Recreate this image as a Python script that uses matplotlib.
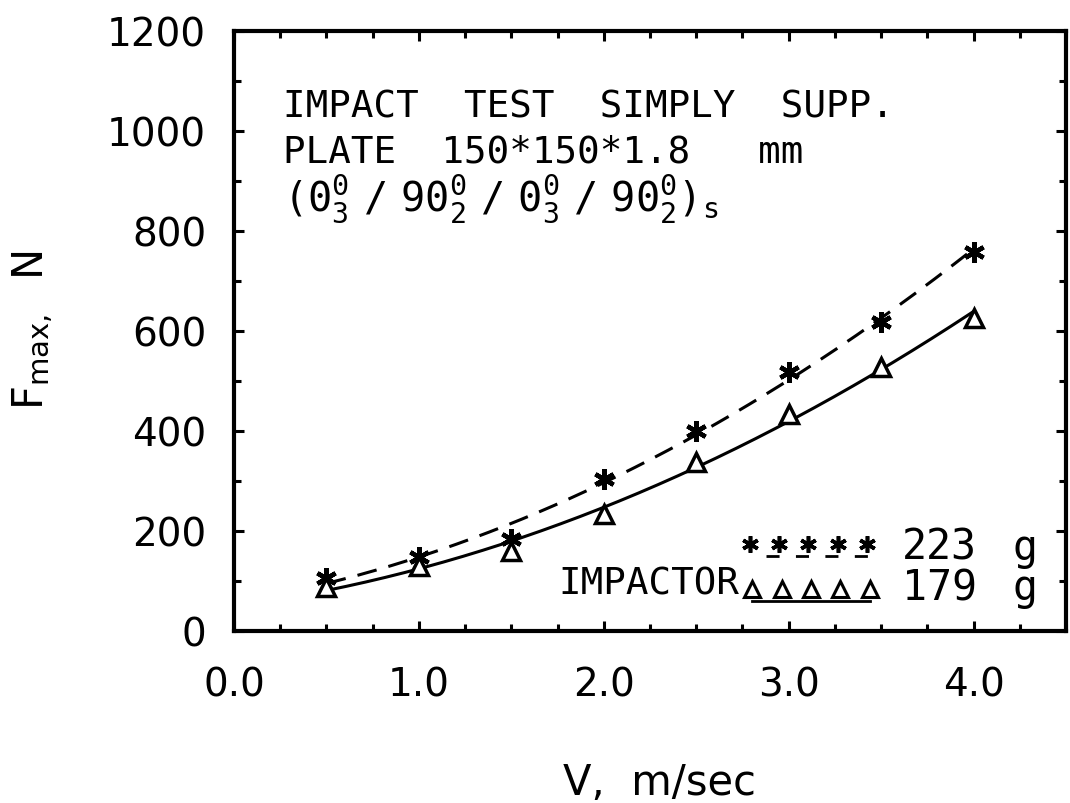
import numpy as np
import matplotlib
matplotlib.use("Agg")
import matplotlib.pyplot as plt
from matplotlib.ticker import MultipleLocator

plt.rcParams['font.family'] = ['DejaVu Sans']
plt.rcParams['mathtext.fontset'] = 'dejavusans'
plt.rcParams['mathtext.default'] = 'regular'

# impact velocity, m/sec
velocity = [0.5, 1.0, 1.5, 2.0, 2.5, 3.0, 3.5, 4.0]
# peak force, N
f_223g = [106, 148, 184, 304, 400, 519, 619, 759]
f_179g = [88, 130, 160, 234, 338, 435, 529, 627]

x_ticks = [0.0, 1.0, 2.0, 3.0, 4.0]
y_ticks = [0, 200, 400, 600, 800, 1000, 1200]

mono = 'DejaVu Sans Mono'

fig = plt.figure(figsize=(10.7, 8.04), dpi=100)
ax = fig.add_axes([234 / 1070, 1 - 632 / 804, 832 / 1070, 600 / 804])

# quadratic fits drawn through the measured points
xs = np.linspace(velocity[0], velocity[-1], 200)
fit_223 = np.polyval(np.polyfit(velocity, f_223g, 2), xs)
fit_179 = np.polyval(np.polyfit(velocity, f_179g, 2), xs)

ax.plot(xs, fit_223, color='black', lw=2.2, ls=(0, (6.5, 4)))
ax.plot(xs, fit_179, color='black', lw=2.2)
ax.plot(velocity, f_223g, ls='none', marker=(6, 2, 0), ms=15, mew=3.2, color='black')
ax.plot(velocity, f_179g, ls='none', marker='^', ms=13, mew=2.5,
        mfc='white', mec='black')

ax.set_xlim(0, 4.5)
ax.set_ylim(0, 1200)
ax.set_xticks(x_ticks)
ax.set_xticklabels([f"{v:.1f}" for v in x_ticks])
ax.set_yticks(y_ticks)
ax.xaxis.set_minor_locator(MultipleLocator(0.25))
ax.yaxis.set_minor_locator(MultipleLocator(100))
ax.tick_params(which='both', direction='in', top=True, right=True, width=2.2,
               labelsize=28)
ax.tick_params(which='major', length=7)
ax.tick_params(which='minor', length=5)
ax.tick_params(axis='x', pad=25)
ax.tick_params(axis='y', pad=20)
for s in ax.spines.values():
    s.set_linewidth(3)

ax.set_xlabel("V,  m/sec", fontsize=30)
ax.xaxis.set_label_coords(0.512, -0.217)
ax.set_ylabel(r"F$_{max,}$  N", fontsize=30)
ax.yaxis.set_label_coords(-0.215, 0.503)

# title block
ax.text(0.059, 0.857, "IMPACT  TEST  SIMPLY  SUPP.", transform=ax.transAxes,
        fontsize=27, family=mono, va='baseline', ha='left')
ax.text(0.059, 0.782, "PLATE  150*150*1.8   mm", transform=ax.transAxes,
        fontsize=27, family=mono, va='baseline', ha='left')
ax.text(0.059, 0.700,
        r"$\mathtt{(0^0_3\ /\ 90^0_2\ /\ 0^0_3\ /\ 90^0_2)_s}$",
        transform=ax.transAxes, fontsize=29, va='baseline', ha='left')

# legend drawn by hand, as in the original
lx = np.linspace(0.620, 0.761, 5)
ax.plot(lx, [0.145] * 5, transform=ax.transAxes, ls='none', marker=(6, 2, 0),
        ms=12, mew=2.6, color='black', clip_on=False)
ax.plot([0.639, 0.763], [0.125, 0.125], transform=ax.transAxes, color='black',
        lw=2, ls=(0, (4.7, 5.9)), clip_on=False)
ax.plot(lx + 0.003, [0.070] * 5, transform=ax.transAxes, ls='none', marker='^',
        ms=11, mew=2.2, mfc='white', mec='black', clip_on=False)
ax.plot([0.623, 0.764], [0.050, 0.050], transform=ax.transAxes, color='black',
        lw=2, clip_on=False)
ax.text(0.803, 0.120, "223", transform=ax.transAxes, fontsize=30,
        family=mono, va='baseline', ha='left')
ax.text(0.936, 0.120, "g", transform=ax.transAxes, fontsize=30,
        family=mono, va='baseline', ha='left')
ax.text(0.803, 0.053, "179", transform=ax.transAxes, fontsize=30,
        family=mono, va='baseline', ha='left')
ax.text(0.936, 0.053, "g", transform=ax.transAxes, fontsize=30,
        family=mono, va='baseline', ha='left')
ax.text(0.607, 0.062, "IMPACTOR", transform=ax.transAxes, fontsize=27,
        family=mono, va='baseline', ha='right')

fig.savefig("out.png", dpi=100)
